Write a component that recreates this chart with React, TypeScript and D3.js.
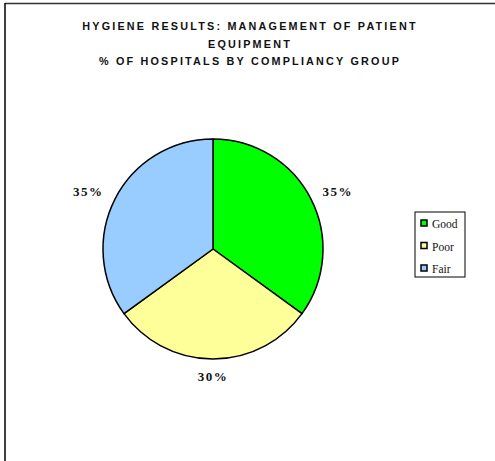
import React, { useEffect, useRef } from 'react';
import * as d3 from 'd3';

const categories = ['Good', 'Poor', 'Fair'];
const values = [35, 30, 35];
const colors = ['#00ff00', '#ffff99', '#99ccff'];
const titleLines = [
  'HYGIENE RESULTS: MANAGEMENT OF PATIENT',
  'EQUIPMENT',
  '% OF HOSPITALS BY COMPLIANCY GROUP',
];

export default function App() {
  const ref = useRef<SVGSVGElement>(null);

  useEffect(() => {
    const svg = d3.select(ref.current);
    svg.selectAll('*').remove();

    const width = 495, height = 461;
    const cx = 213, cy = 249, radius = 110;

    // frame (only top and left show in the picture)
    svg.append('line').attr('x1', 5).attr('y1', 3.5).attr('x2', width).attr('y2', 3.5)
      .attr('stroke', '#333').attr('stroke-width', 1.5);
    svg.append('line').attr('x1', 5).attr('y1', 3).attr('x2', 5).attr('y2', height)
      .attr('stroke', '#000').attr('stroke-width', 1.5);

    svg.append('g').selectAll('text')
      .data(titleLines)
      .enter()
      .append('text')
      .text(d => d)
      .attr('x', 250)
      .attr('y', (d, i) => 30 + i * 17.5)
      .attr('text-anchor', 'middle')
      .attr('font-family', '"Liberation Sans", Arial, sans-serif')
      .attr('font-weight', 'bold')
      .attr('font-size', 10.8)
      .attr('letter-spacing', 2.2)
      .attr('fill', '#111');

    const pie = d3.pie<number>().sort(null).value(d => d);
    const arcs = pie(values);
    const arc = d3.arc<d3.PieArcDatum<number>>().innerRadius(0).outerRadius(radius);
    const labelArc = d3.arc<d3.PieArcDatum<number>>().innerRadius(radius + 13).outerRadius(radius + 13);

    const g = svg.append('g').attr('transform', 'translate(' + cx + ',' + cy + ')');
    g.selectAll('path')
      .data(arcs)
      .enter()
      .append('path')
      .attr('d', arc)
      .attr('fill', (d, i) => colors[i])
      .attr('stroke', '#000')
      .attr('stroke-width', 1.5)
      .attr('stroke-linejoin', 'round');

    // labels sit just outside the pie, pushed out by half their box
    const halfW = 17, halfH = 4.5;
    g.selectAll('text')
      .data(arcs)
      .enter()
      .append('text')
      .text(d => d.data + '%')
      .attr('x', d => {
        const a = (d.startAngle + d.endAngle) / 2;
        return labelArc.centroid(d)[0] + Math.sin(a) * halfW;
      })
      .attr('y', d => {
        const a = (d.startAngle + d.endAngle) / 2;
        return labelArc.centroid(d)[1] - Math.cos(a) * halfH + halfH;
      })
      .attr('text-anchor', 'middle')
      .attr('font-family', '"Liberation Serif", "Times New Roman", serif')
      .attr('font-weight', 'bold')
      .attr('font-size', 13)
      .attr('letter-spacing', 1.5)
      .attr('fill', '#111');

    // legend
    const lg = svg.append('g').attr('transform', 'translate(415,212)');
    lg.append('rect').attr('width', 50).attr('height', 65)
      .attr('fill', '#fff').attr('stroke', '#000').attr('stroke-width', 1);
    const items = lg.selectAll('g.item')
      .data(categories)
      .enter()
      .append('g')
      .attr('class', 'item')
      .attr('transform', (d, i) => 'translate(0,' + (12 + i * 22.5) + ')');
    items.append('rect')
      .attr('x', 6).attr('y', -4).attr('width', 6).attr('height', 6)
      .attr('fill', (d, i) => colors[i])
      .attr('stroke', '#000').attr('stroke-width', 1.5);
    items.append('text')
      .text(d => d)
      .attr('x', 17)
      .attr('y', 4)
      .attr('font-family', '"Liberation Serif", "Times New Roman", serif')
      .attr('font-size', 11.5)
      .attr('fill', '#111');
  }, []);

  return (
    <svg ref={ref} width={495} height={461}
      style={{ position: 'absolute', left: 0, top: 0, background: '#fff' }}></svg>
  );
}
